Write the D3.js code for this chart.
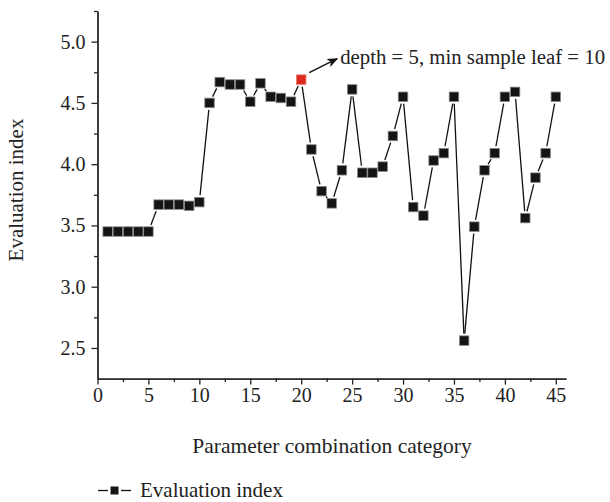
<!DOCTYPE html>
<html>
<head>
<meta charset="utf-8">
<script src="https://cdn.jsdelivr.net/npm/d3@7"></script>
<style>
  body { margin: 0; background: #fff; }
  svg { display: block; font-family: "Liberation Serif", "Times New Roman", serif; }
  .axis path, .axis line { stroke: #222; stroke-width: 1.3; }
  .axis text { fill: #222; font-size: 20px; font-family: "Liberation Serif", serif; }
</style>
</head>
<body>
<div id="chart"></div>
<script>
const categories = [1, 2, 3, 4, 5, 6, 7, 8, 9, 10, 11, 12, 13, 14, 15, 16, 17, 18, 19, 20, 21, 22, 23,
  24, 25, 26, 27, 28, 29, 30, 31, 32, 33, 34, 35, 36, 37, 38, 39, 40, 41, 42, 43, 44, 45];
const values = [3.45, 3.45, 3.45, 3.45, 3.45, 3.67, 3.67, 3.67, 3.66, 3.69,
  4.50, 4.67, 4.65, 4.65, 4.51, 4.66, 4.55, 4.54, 4.51, 4.69,
  4.12, 3.78, 3.68, 3.95, 4.61, 3.93, 3.93, 3.98, 4.23, 4.55,
  3.65, 3.58, 4.03, 4.09, 4.55, 2.56, 3.49, 3.95, 4.09, 4.55,
  4.59, 3.56, 3.89, 4.09, 4.55];
const highlight = 20;
const xTicks = [0, 5, 10, 15, 20, 25, 30, 35, 40, 45];
const yTicks = [2.5, 3.0, 3.5, 4.0, 4.5, 5.0];
const seriesName = 'Evaluation index';
const note = 'depth = 5, min sample leaf = 10';

const width = 610, height = 502;
const data = categories.map((c, i) => ({c: c, v: values[i]}));

const x = d3.scaleLinear().domain([0, 46]).range([97.5, 566]);
const y = d3.scaleLinear().domain([2.25, 5.25]).range([378.6, 11]);

const svg = d3.select('#chart').append('svg')
  .attr('width', width)
  .attr('height', height);

svg.append('defs').append('marker')
  .attr('id', 'arrow')
  .attr('viewBox', '0 0 10 10')
  .attr('refX', 9).attr('refY', 5)
  .attr('markerWidth', 11).attr('markerHeight', 11)
  .attr('markerUnits', 'userSpaceOnUse')
  .attr('orient', 'auto')
  .append('path')
  .attr('d', 'M0,1 L10,5 L0,9 L2.5,5 Z')
  .attr('fill', '#111');

// axes: major + minor ticks
const xMinor = xTicks.slice(0, -1).map(t => t + 2.5);
const yMinor = [2.75, 3.25, 3.75, 4.25, 4.75, 5.25];

svg.append('g')
  .attr('class', 'axis')
  .attr('transform', `translate(0,${y(2.25)})`)
  .call(d3.axisBottom(x).tickValues(xMinor).tickSize(3.5).tickSizeOuter(0).tickFormat(''));
svg.append('g')
  .attr('class', 'axis')
  .attr('transform', `translate(0,${y(2.25)})`)
  .call(d3.axisBottom(x).tickValues(xTicks).tickSize(6).tickSizeOuter(0).tickPadding(3));

svg.append('g')
  .attr('class', 'axis')
  .attr('transform', `translate(${x(0)},0)`)
  .call(d3.axisLeft(y).tickValues(yMinor).tickSize(3.5).tickSizeOuter(0).tickFormat(''));
svg.append('g')
  .attr('class', 'axis')
  .attr('transform', `translate(${x(0)},0)`)
  .call(d3.axisLeft(y).tickValues(yTicks).tickSize(6).tickSizeOuter(0).tickPadding(6)
    .tickFormat(d3.format('.1f')));

// connecting line, broken around each marker
const gap = 7;
const segs = [];
for (let i = 1; i < data.length; i++) {
  const x0 = x(data[i - 1].c), y0 = y(data[i - 1].v);
  const x1 = x(data[i].c), y1 = y(data[i].v);
  const len = Math.hypot(x1 - x0, y1 - y0);
  if (len <= gap * 2) continue;
  const ux = (x1 - x0) / len, uy = (y1 - y0) / len;
  segs.push([x0 + ux * gap, y0 + uy * gap, x1 - ux * gap, y1 - uy * gap]);
}
svg.append('g').selectAll('line')
  .data(segs)
  .enter().append('line')
  .attr('x1', d => d[0]).attr('y1', d => d[1])
  .attr('x2', d => d[2]).attr('y2', d => d[3])
  .attr('stroke', '#111')
  .attr('stroke-width', 1.3);

const ms = 9.5;
svg.append('g').selectAll('rect')
  .data(data)
  .enter().append('rect')
  .attr('x', d => x(d.c) - ms / 2)
  .attr('y', d => y(d.v) - ms / 2)
  .attr('width', ms)
  .attr('height', ms)
  .attr('fill', d => d.c === highlight ? '#dc2a1e' : '#141414')
  .attr('stroke', d => d.c === highlight ? '#e87a70' : '#8a8a8a')
  .attr('stroke-width', 0.8);

// annotation
const hp = data[highlight - 1];
svg.append('line')
  .attr('x1', x(hp.c) + 8).attr('y1', y(hp.v) - 7)
  .attr('x2', x(hp.c) + 36).attr('y2', y(hp.v) - 21)
  .attr('stroke', '#111')
  .attr('stroke-width', 1.3)
  .attr('marker-end', 'url(#arrow)');

svg.append('text')
  .attr('x', x(hp.c) + 39)
  .attr('y', y(hp.v) - 15.5)
  .style('font-size', '20.8px')
  .attr('fill', '#222')
  .text(note);

// axis titles
svg.append('text')
  .attr('x', 332)
  .attr('y', 453)
  .attr('text-anchor', 'middle')
  .style('font-size', '21.5px')
  .attr('fill', '#222')
  .text('Parameter combination category');

svg.append('text')
  .attr('transform', 'rotate(-90)')
  .attr('x', -190)
  .attr('y', 23)
  .attr('text-anchor', 'middle')
  .style('font-size', '21px')
  .attr('fill', '#222')
  .text(seriesName);

// legend
const lg = svg.append('g').attr('transform', 'translate(98,490.5)');
lg.append('line').attr('x1', 0).attr('x2', 10).attr('y1', 0).attr('y2', 0)
  .attr('stroke', '#111').attr('stroke-width', 1.3);
lg.append('line').attr('x1', 23).attr('x2', 33).attr('y1', 0).attr('y2', 0)
  .attr('stroke', '#111').attr('stroke-width', 1.3);
lg.append('rect').attr('x', 12.5).attr('y', -4).attr('width', 8).attr('height', 8)
  .attr('fill', '#141414');
lg.append('text')
  .attr('x', 42)
  .attr('y', 6.5)
  .style('font-size', '21px')
  .attr('fill', '#222')
  .text(seriesName);
</script>
</body>
</html>
